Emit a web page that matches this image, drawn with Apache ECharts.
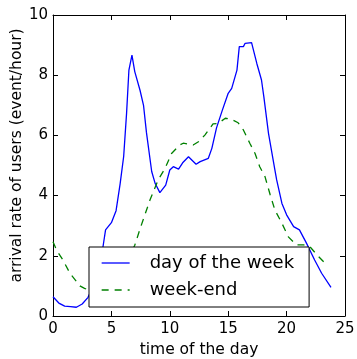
<!DOCTYPE html>
<html>
<head>
<meta charset="utf-8">
<script src="https://cdn.jsdelivr.net/npm/echarts@6/dist/echarts.min.js"></script>
<style>
  html, body { margin: 0; padding: 0; background: #fff; }
  #chart { width: 357px; height: 359px; }
</style>
</head>
<body>
<div id="chart"></div>
<script>
// hours of the day / arrival rate
const weekdayHours = [0, 0.5, 1, 1.5, 2, 2.5, 3, 3.5, 4, 4.3, 4.5, 5.0, 5.4, 5.75, 6.05, 6.3, 6.5, 6.76,
  7.0, 7.45, 7.75, 8.0, 8.45, 8.75, 9.15, 9.65, 10.0, 10.3, 10.75, 11.1, 11.6, 12.25, 12.6, 13.3, 13.6,
  14.0, 14.5, 15.0, 15.3, 15.75, 15.95, 16.3, 16.45, 17.0, 17.45, 17.85, 18.05, 18.45, 19.0, 19.15,
  19.6, 20.0, 20.6, 21.1, 21.7, 22.4, 23.0, 23.8];
const weekdayRate = [0.64, 0.43, 0.33, 0.31, 0.29, 0.40, 0.62, 1.05, 1.7, 2.35, 2.86, 3.1, 3.5, 4.4, 5.3, 6.74, 8.17, 8.67,
  8.12, 7.5, 7.0, 6.1, 4.8, 4.4, 4.1, 4.35, 4.85, 4.96, 4.88, 5.09, 5.29, 5.04, 5.13, 5.24, 5.57,
  6.25, 6.84, 7.4, 7.56, 8.17, 8.95, 8.95, 9.06, 9.08, 8.39, 7.84, 7.29, 6.07, 4.85, 4.52,
  3.74, 3.36, 2.97, 2.86, 2.42, 1.86, 1.42, 0.95];

const weekendHours = [0, 0.3, 0.85, 1.45, 2.3, 2.7, 3.1, 3.5, 4, 4.5, 5, 5.5, 6, 6.5, 7.0, 7.5, 8.3, 9.0,
  9.6, 10.15, 10.85, 11.15, 12.0, 12.45, 13.0, 13.7, 14.15, 14.75, 15.3, 15.85, 16.3, 16.85, 17.3, 17.7,
  18.15, 18.6, 19.0, 19.6, 20.15, 20.85, 21.45, 22.0, 22.6, 23.45];
const weekendRate = [2.47, 2.19, 1.86, 1.42, 1.0, 0.92, 0.85, 0.78, 0.74, 0.8, 0.95, 1.2, 1.55, 1.95, 2.35, 2.95, 3.85, 4.52,
  4.91, 5.40, 5.68, 5.74, 5.68, 5.79, 6.01, 6.38, 6.40, 6.57, 6.53, 6.42, 6.18, 5.74, 5.40, 4.96,
  4.63, 4.02, 3.52, 3.08, 2.63, 2.36, 2.36, 2.30, 2.03, 1.69];

const xTicks = [0, 5, 10, 15, 20, 25];
const yTicks = [0, 2, 4, 6, 8, 10];
const seriesNames = ['day of the week', 'week-end'];

const font = 'DejaVu Sans';
const black = '#000';

function makeAxis(ticks, extra) {
  return Object.assign({
    type: 'value',
    min: ticks[0],
    max: ticks[ticks.length - 1],
    interval: ticks[1] - ticks[0],
    axisLine: { show: true, onZero: false, lineStyle: { color: black, width: 1 } },
    axisTick: { show: true, inside: true, length: 5, lineStyle: { color: black, width: 1 } },
    axisLabel: { color: black, fontSize: 15, fontFamily: font },
    splitLine: { show: false }
  }, extra);
}

const myChart = echarts.init(document.getElementById('chart'), null, { renderer: 'canvas' });

myChart.setOption({
  animation: false,
  grid: { left: 53, right: 12, top: 15, bottom: 43, outerBoundsMode: 'none', containLabel: false },
  xAxis: [
    makeAxis(xTicks, {
      name: 'time of the day',
      nameLocation: 'middle',
      nameGap: 26,
      nameTextStyle: { color: black, fontSize: 15.5, fontFamily: font },
      axisLabel: { color: black, fontSize: 15, fontFamily: font, margin: 6 }
    }),
    makeAxis(xTicks, { position: 'top', axisLabel: { show: false } })
  ],
  yAxis: [
    makeAxis(yTicks, {
      name: 'arrival rate of users (event/hour)',
      nameLocation: 'middle',
      nameGap: 28,
      nameMoveOverlap: false,
      nameTextStyle: { color: black, fontSize: 15.5, fontFamily: font, padding: [0, 0, 0, 20] },
      axisLabel: { color: black, fontSize: 15, fontFamily: font, margin: 5 }
    }),
    makeAxis(yTicks, { position: 'right', axisLabel: { show: false } })
  ],
  legend: {
    orient: 'vertical',
    left: 89,
    top: 247,
    padding: [6, 15, 7, 12],
    itemGap: 7,
    itemWidth: 28,
    itemHeight: 14,
    backgroundColor: '#fff',
    borderColor: black,
    borderWidth: 1,
    borderRadius: 0,
    data: seriesNames,
    itemStyle: { color: 'rgba(0,0,0,0)', borderWidth: 0, opacity: 0 },
    lineStyle: { width: 1.3 },
    textStyle: { color: black, fontSize: 18, fontFamily: font, lineHeight: 20, padding: [0, 0, 0, 15] }
  },
  series: [
    {
      name: seriesNames[0],
      type: 'line',
      symbol: 'none',
      data: weekdayHours.map((h, i) => [h, weekdayRate[i]]),
      lineStyle: { color: '#0000ff', width: 1.3 },
      itemStyle: { color: '#0000ff' }
    },
    {
      name: seriesNames[1],
      type: 'line',
      symbol: 'none',
      data: weekendHours.map((h, i) => [h, weekendRate[i]]),
      lineStyle: { color: '#008000', width: 1.3, type: [7, 6] },
      itemStyle: { color: '#008000' }
    }
  ]
});
</script>
</body>
</html>
